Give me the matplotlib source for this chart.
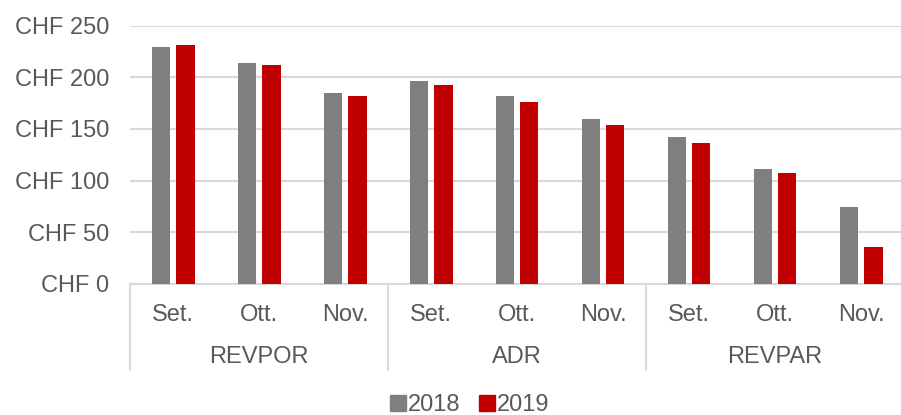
import numpy as np
import matplotlib
matplotlib.use("Agg")
import matplotlib.pyplot as plt
from matplotlib.patches import Patch

plt.rcParams['font.family'] = ['Liberation Sans', 'DejaVu Sans']

# data
groups = ["REVPOR", "ADR", "REVPAR"]
months = ["Set.", "Ott.", "Nov."]
vals_2018 = [229, 214, 184.5, 196, 181.5, 159.5, 142, 111.5, 74.5]
vals_2019 = [231, 212, 181.5, 193, 176, 154, 136, 107, 35.5]
yticks = [0, 50, 100, 150, 200, 250]

gray = "#7F7F7F"
red = "#C00000"
txt = "#595959"
grid = "#D9D9D9"

fig = plt.figure(figsize=(9.01, 4.15), dpi=100)
ax = fig.add_axes([130 / 901, 131.3 / 415, 774 / 901, 258 / 415])

x = np.arange(len(vals_2018))
w = 0.22
off = 0.14
ax.bar(x - off, vals_2018, w, color=gray, label="2018", zorder=3)
ax.bar(x + off, vals_2019, w, color=red, label="2019", zorder=3)

ax.set_xlim(-0.5, len(x) - 0.5)
ax.set_ylim(0, 250)
ax.set_yticks(yticks)
ax.set_yticklabels([f"CHF {v}" for v in yticks], fontsize=17, color=txt)
ax.tick_params(axis="y", length=0, pad=15)
ax.set_xticks([])
ax.yaxis.grid(True, color=grid, linewidth=1.5, zorder=0)
for s in ["top", "right", "left"]:
    ax.spines[s].set_visible(False)
ax.spines["bottom"].set_color(grid)
ax.spines["bottom"].set_linewidth(1.5)

# month labels and group labels under the axis
trans = ax.get_xaxis_transform()
for i in x:
    ax.text(i, -0.12, months[i % 3], transform=trans, ha="center", va="center",
            fontsize=17, color=txt)
for g, name in enumerate(groups):
    ax.text(g * 3 + 1, -0.285, name, transform=trans, ha="center", va="center",
            fontsize=17, color=txt)
for b in [-0.5, 2.5, 5.5, 8.5]:
    ax.plot([b, b], [0, -0.335], transform=trans, color=grid, linewidth=1.5,
            clip_on=False)

handles = [Patch(color=gray, label="2018"), Patch(color=red, label="2019")]
leg = fig.legend(handles=handles, loc="center", bbox_to_anchor=(470 / 901, 1 - 405 / 415),
                 ncol=2, frameon=False, fontsize=17, handlelength=0.65, handleheight=0.65,
                 handletextpad=0.1, columnspacing=0.8)
for t in leg.get_texts():
    t.set_color(txt)

fig.savefig("out.png", dpi=100)
